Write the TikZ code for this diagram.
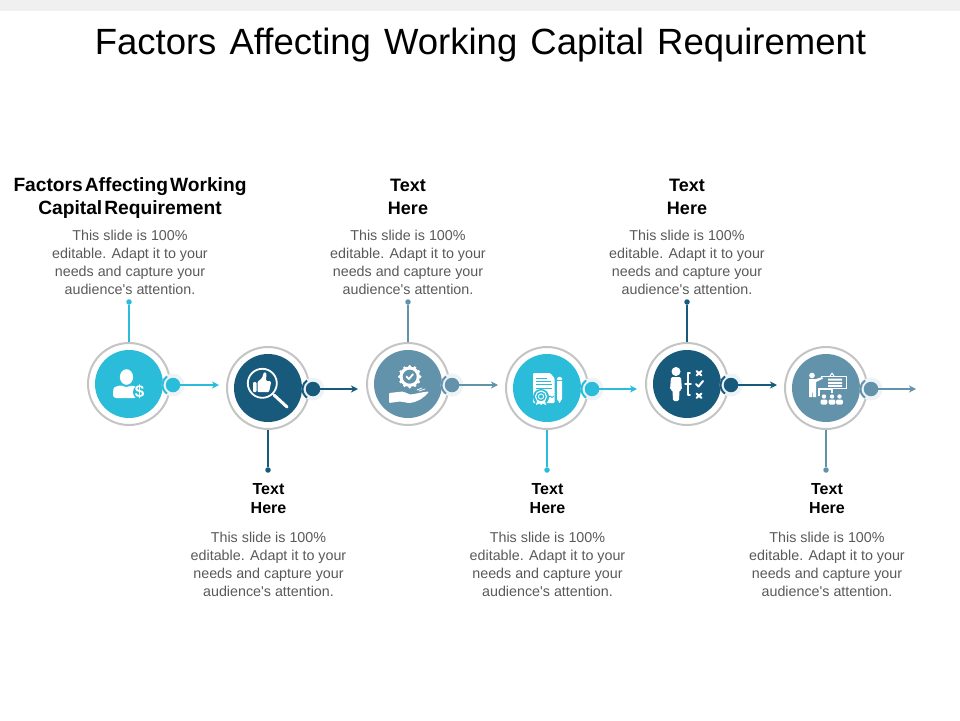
\documentclass[tikz,border=0pt]{standalone}
\usepackage{fontspec}
\setmainfont{Liberation Sans}[Ligatures=TeXOff]
\usetikzlibrary{arrows.meta}
\definecolor{teal}{HTML}{2ABCD9}
\definecolor{navy}{HTML}{175A7C}
\definecolor{steel}{HTML}{6392AB}
\definecolor{ringgray}{HTML}{C4C4C4}
\definecolor{bodygray}{HTML}{595959}
\definecolor{bandgray}{HTML}{F0F0F0}
\definecolor{halo}{HTML}{EEF3F7}
\tikzset{
  x=1pt,y=-1pt,
  ringnode/.style={circle,draw=ringgray,line width=2pt,fill=white,minimum size=82pt,inner sep=0pt},
  discnode/.style={circle,fill=#1,minimum size=68pt,inner sep=0pt},
  halonode/.style={circle,fill=halo,minimum size=23pt,inner sep=0pt},
  dotnode/.style={circle,fill=#1,minimum size=14.5pt,inner sep=0pt},
  pinnode/.style={circle,fill=#1,minimum size=5.5pt,inner sep=0pt},
  flow/.style={draw=#1,line width=1.5pt,-{Stealth[length=7pt,width=7pt,inset=2pt]}},
  stem/.style={draw=#1,line width=1.1pt},
  crescent/.style={draw=#1,line width=2pt},
  bodytext/.style={text=bodygray,align=center,font=\fontsize{14.3}{17.8}\selectfont,inner sep=0pt},
  headbig/.style={text=black,align=center,font=\fontsize{18}{23}\selectfont\bfseries,inner sep=0pt},
  headwide/.style={text=black,align=center,font=\fontsize{19.2}{23}\selectfont\bfseries,inner sep=0pt},
  headsmall/.style={text=black,align=center,font=\fontsize{16}{19}\selectfont\bfseries,inner sep=0pt},
  titletext/.style={text=black,font=\fontsize{36.5}{44}\selectfont,inner sep=0pt},
  iconline/.style={draw=white,line cap=round,line join=round},
}
\newcommand{\bodylines}{This slide is 100\%\\editable. Adapt it to your\\needs and capture your\\audience's attention.}
\begin{document}
\begin{tikzpicture}
\useasboundingbox (0,0) rectangle (960,720);
\fill[bandgray] (0,0) rectangle (960,11);
\node[titletext,anchor=base] (title) at (480.5,54) {Factors\hspace{3pt} Affecting\hspace{3pt} Working\hspace{3pt} Capital\hspace{3pt} Requirement};

% stems first
\foreach \n/\x/\y/\c/\yp in {1/129/384/teal/302,2/268/388/navy/470,3/408/384/steel/302,4/547/388/teal/470,5/687/384/navy/302,6/826/388/steel/470}{
  \node[pinnode=\c] (p\n) at (\x,\yp) {};
  \node[ringnode] (r\n) at (\x,\y) {};
  \node[discnode=\c] (c\n) at (\x,\y) {};
  \draw[stem=\c] (p\n) -- (r\n);
}
% small dots and arrows
\foreach \n/\x/\y/\c/\xe in {1/173/385/teal/219,2/313/389/navy/358,3/452/385/steel/498,4/592/389/teal/637,5/731/385/navy/777,6/871/389/steel/916}{
  \node[halonode] (h\n) at (\x,\y) {};
  \draw[crescent=\c] ([shift={(125:10.5)}]\x,\y) arc[start angle=125,end angle=235,radius=10.5];
  \node[dotnode=\c] (d\n) at (\x,\y) {};
  \coordinate (e\n) at (\xe,\y);
  \draw[flow=\c] (d\n) -- (e\n);
}

% icon 1: person with dollar
\begin{scope}[shift={(c1.center)}]
  \fill[white] (-2.5,-7) ellipse[x radius=6.6,y radius=7.8];
  \fill[white,rounded corners=3pt] (-16,14) -- (-16,7) .. controls (-15,3) and (-11,2) .. (-7,1) -- (-2.5,4) -- (2,1) .. controls (5,2) and (7,3) .. (8,6) -- (8,14) -- cycle;
  \fill[teal] (11,8) circle[radius=7];
  \node[text=white,font=\fontsize{17}{17}\selectfont\bfseries,inner sep=0pt] (i1) at (10.7,8) {\$};
\end{scope}

% icon 2: magnifier with thumb
\begin{scope}[shift={(c2.center)}]
  \draw[iconline,line width=1.8pt] (-5.7,-4.7) circle[radius=14.5];
  \draw[iconline,line width=3pt] (6,7) -- (19,19);
  \fill[white,rounded corners=1pt] (-15,-6) rectangle (-11.5,4);
  \fill[white,rounded corners=1pt] (-10.5,4) -- (-10.5,-6) -- (-6,-10) -- (-4,-16) -- (-1.5,-15) -- (-2,-7) -- (2.5,-7) -- (3,-5) -- (1,4) -- cycle;
\end{scope}

% icon 3: hand with gear
\begin{scope}[shift={(c3.center)}]
  \foreach \a in {0,30,...,330}{\fill[white] ([shift={(\a:10.2)}]1.7,-7.3) circle[radius=1.7];}
  \fill[white] (1.7,-7.3) circle[radius=10.2];
  \fill[steel] (1.7,-7.3) circle[radius=7];
  \draw[iconline,line width=1.8pt] (-1.6,-7.5) -- (0.9,-5) -- (5,-9.8);
  \fill[white,rounded corners=1pt] (-19,9) -- (-5,7.5) -- (2,10.5) .. controls (8,10) and (14,8) .. (21,7.5) .. controls (17,13) and (10,18) .. (1,19) -- (-8,17.5) -- (-19,19) -- cycle;
  \draw[iconline,line width=.8pt] (9,6) -- (14,4) (11,7) -- (17,5);
\end{scope}

% icon 4: certificate and pencil
\begin{scope}[shift={(c4.center)}]
  \fill[white,rounded corners=1pt] (-14,-15) -- (3,-15) -- (7.5,-10) -- (7.5,15) -- (-14,15) -- cycle;
  \draw[teal,line width=.9pt] (-11,-10) -- (0,-10) (-11,-7) -- (4,-7) (-11,-3.5) -- (4.5,-3.5) (-11,0) -- (4.5,0);
  \fill[teal] (-6,9) circle[radius=8];
  \draw[iconline,line width=1.1pt] (-6,8.5) circle[radius=5.5];
  \draw[iconline,line width=.9pt] (-6,8.5) circle[radius=2.6];
  \fill[white] (-10,13) -- (-11,17) -- (-7.5,15.5) -- (-6,17) -- (-4.5,15.5) -- (-1,17) -- (-2,13) -- cycle;
  \draw[teal,line width=.9pt] (1,10) -- (3,8) -- (5,9.5) -- (7,8);
  \fill[white,rounded corners=.7pt] (10,-10) -- (12.5,-11.5) -- (15,-10) -- (15,-8) -- (10,-8) -- cycle;
  \fill[white] (10,-7) -- (15,-7) -- (15,11) -- (12.5,15) -- (10,11) -- cycle;
\end{scope}

% icon 5: person with choices
\begin{scope}[shift={(c5.center)}]
  \fill[white] (-11,-12.5) circle[radius=4.5];
  \fill[white,rounded corners=1.5pt] (-16,-7) -- (-6,-7) -- (-5,6) -- (-7.5,6) -- (-8,17) -- (-14,17) -- (-14.5,6) -- (-17,6) -- cycle;
  \draw[iconline,line width=1.5pt] (3,-11) -- (1,-11) -- (1,11) -- (3,11) (-2,0) -- (4,0);
  \draw[iconline,line width=2pt] (9.5,-13) -- (14.5,-8.5) (14.5,-13) -- (9.5,-8.5);
  \draw[iconline,line width=2pt] (9,0) -- (11.5,2.5) -- (16,-3);
  \draw[iconline,line width=2pt] (9.5,9.5) -- (14.5,14) (14.5,9.5) -- (9.5,14);
\end{scope}

% icon 6: presenter and audience
\begin{scope}[shift={(c6.center)}]
  \fill[white] (-14,-12.5) circle[radius=2.8];
  \fill[white] (-17,-9) -- (-10,-9) -- (-4,-11) -- (-3,-9.5) -- (-10,-6) -- (-10,9) -- (-13,9) -- (-13.5,0) -- (-14,9) -- (-17,9) -- cycle;
  \draw[iconline,line width=.9pt,line cap=butt] (-5,-12) -- (20,-12) -- (20,0) -- (-8,0);
  \fill[white] (2,-9.5) rectangle (16,-7.5) (2,-6) rectangle (16,-4) (2,-2.8) rectangle (16,-1.2);
  \draw[iconline,line width=1pt] (4,-12) -- (6,-15) -- (8,-12);
  \draw[iconline,line width=1.2pt,line cap=butt] (-8,1.5) -- (7,1.5) (-7,1.5) -- (-7,8) (6,1.5) -- (6,5);
  \foreach \xa in {-2,6,13.5}{
    \fill[white] (\xa,8.5) circle[radius=2.2];
    \fill[white,rounded corners=1.2pt] (\xa-3.3,16.5) -- (\xa-3.3,11.5) -- (\xa+3.3,11.5) -- (\xa+3.3,16.5) -- cycle;
  }
\end{scope}

% headings
\node[headwide] (t1) at (130,198.5) {\spaceskip=2pt Factors Affecting Working\\\spaceskip=2pt Capital Requirement};
\node[headbig] (t3) at (408,196.5) {Text\\Here};
\node[headbig] (t5) at (687,196.5) {Text\\Here};
\node[headsmall] (t2) at (268.5,498.5) {Text\\Here};
\node[headsmall] (t4) at (547.5,498.5) {Text\\Here};
\node[headsmall] (t6) at (827,498.5) {Text\\Here};
\node[bodytext] (b1) at (130,262.5) {\bodylines};
\node[bodytext] (b3) at (408,262.5) {\bodylines};
\node[bodytext] (b5) at (687,262.5) {\bodylines};
\node[bodytext] (b2) at (268.5,564.5) {\bodylines};
\node[bodytext] (b4) at (547.5,564.5) {\bodylines};
\node[bodytext] (b6) at (827,564.5) {\bodylines};
\end{tikzpicture}
\end{document}
